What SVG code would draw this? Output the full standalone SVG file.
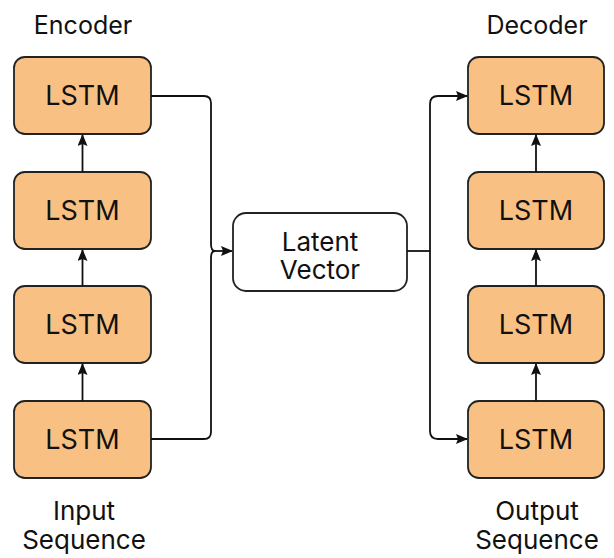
<svg xmlns="http://www.w3.org/2000/svg" width="614" height="558" viewBox="0 0 614 558">
<defs>
<marker id="ah" viewBox="0 0 12 10" refX="11" refY="5" markerWidth="12" markerHeight="10" markerUnits="userSpaceOnUse" orient="auto">
<path d="M0,0 L12,5 L0,10 L2,5 Z" fill="#111"/>
</marker>
<style>
.lstm{fill:#F8C183;stroke:#222;stroke-width:1.8}
.lat{fill:#fff;stroke:#222;stroke-width:1.8}
.t{font-family:Inter,"Liberation Sans",Arial,sans-serif;fill:#111;text-anchor:middle}
.c{fill:none;stroke:#111;stroke-width:1.8}
.a{marker-end:url(#ah)}
</style>
</defs>
<rect width="614" height="558" fill="#fff"/>
<text class="t" x="83" y="34" font-size="25">Encoder</text>
<text class="t" x="537" y="34" font-size="25">Decoder</text>
<g id="enc1"><rect class="lstm" x="14" y="57" width="137" height="77" rx="11"/><text class="t" x="82.5" y="105" font-size="27">LSTM</text></g>
<g id="enc2"><rect class="lstm" x="14" y="172" width="137" height="77" rx="11"/><text class="t" x="82.5" y="220" font-size="27">LSTM</text></g>
<g id="enc3"><rect class="lstm" x="14" y="286" width="137" height="77" rx="11"/><text class="t" x="82.5" y="334" font-size="27">LSTM</text></g>
<g id="enc4"><rect class="lstm" x="14" y="401" width="137" height="77" rx="11"/><text class="t" x="82.5" y="449" font-size="27">LSTM</text></g>
<g id="dec1"><rect class="lstm" x="468" y="57" width="136" height="77" rx="11"/><text class="t" x="536" y="105" font-size="27">LSTM</text></g>
<g id="dec2"><rect class="lstm" x="468" y="172" width="136" height="77" rx="11"/><text class="t" x="536" y="220" font-size="27">LSTM</text></g>
<g id="dec3"><rect class="lstm" x="468" y="286" width="136" height="77" rx="11"/><text class="t" x="536" y="334" font-size="27">LSTM</text></g>
<g id="dec4"><rect class="lstm" x="468" y="401" width="136" height="77" rx="11"/><text class="t" x="536" y="449" font-size="27">LSTM</text></g>
<g id="latent"><rect class="lat" x="233" y="213" width="174" height="78" rx="13"/><text class="t" x="320" y="251" font-size="26">Latent</text><text class="t" x="320" y="279" font-size="26">Vector</text></g>
<g id="input"><text class="t" x="84" y="520" font-size="26">Input</text><text class="t" x="84" y="549" font-size="26">Sequence</text></g>
<g id="output"><text class="t" x="537" y="520" font-size="26">Output</text><text class="t" x="537" y="549" font-size="26">Sequence</text></g>
<g id="connectors">
<line class="c a" x1="82.5" y1="401" x2="82.5" y2="364"/>
<line class="c a" x1="82.5" y1="286" x2="82.5" y2="250"/>
<line class="c a" x1="82.5" y1="172" x2="82.5" y2="135"/>
<line class="c a" x1="536" y1="401" x2="536" y2="364"/>
<line class="c a" x1="536" y1="286" x2="536" y2="250"/>
<line class="c a" x1="536" y1="172" x2="536" y2="135"/>
<path class="c" d="M151,96 H204 Q211,96 211,103 V244 Q211,251 215,251"/>
<path class="c" d="M151,439 H204 Q211,439 211,432 V258 Q211,251 215,251"/>
<path class="c a" d="M213,251 H232"/>
<path class="c" d="M407,251 H430"/>
<path class="c a" d="M430,251 V104 Q430,96 438,96 H467"/>
<path class="c a" d="M430,251 V431 Q430,439 438,439 H467"/>
</g>
</svg>
